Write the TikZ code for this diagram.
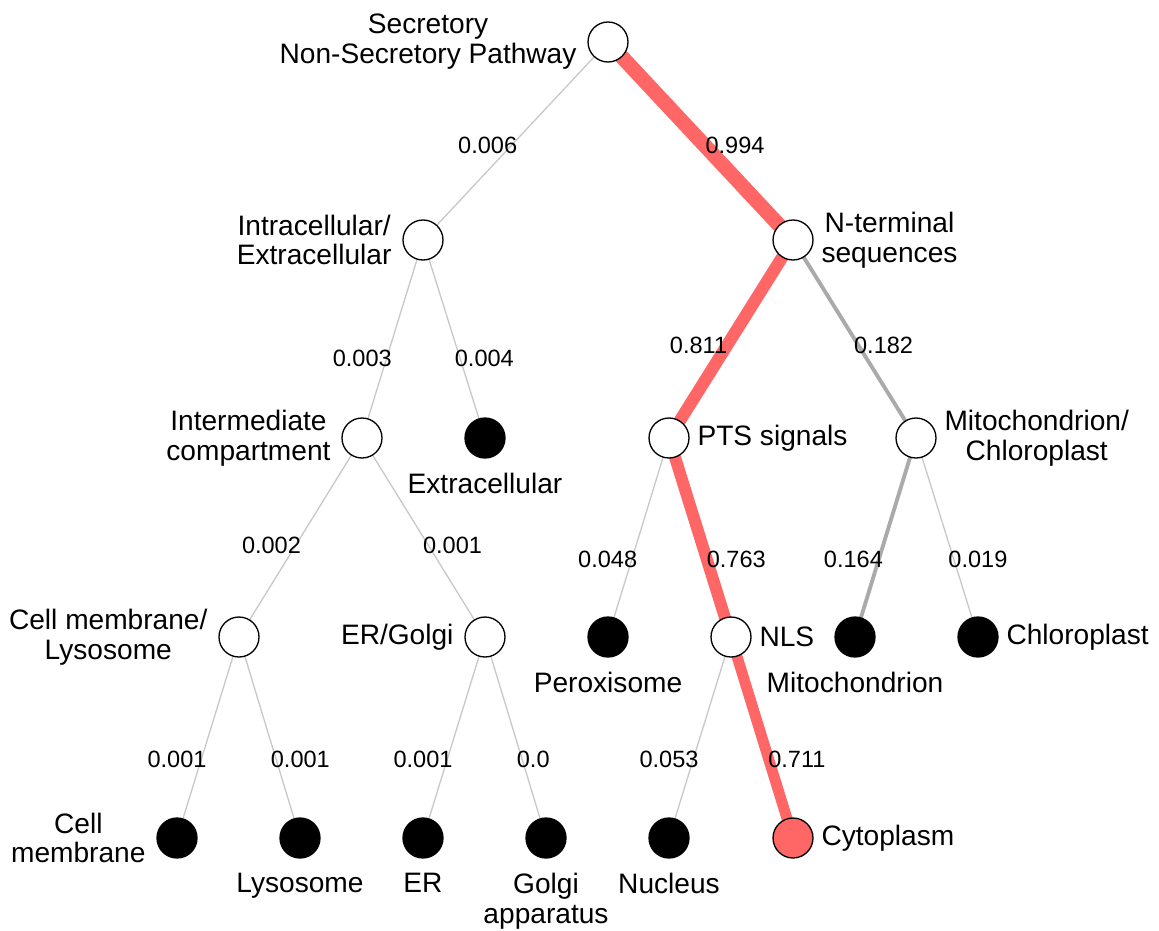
\documentclass[tikz,border=0pt]{standalone}
\usepackage{fontspec}
\setmainfont{Liberation Sans}
\usepackage{xcolor}
\usetikzlibrary{backgrounds}

\definecolor{hotred}{HTML}{FF6666}
\definecolor{coldgray}{HTML}{C8C8C8}

\begin{document}
\begin{tikzpicture}[
  x=0.02cm, y=-0.02cm,
  split/.style={circle, draw, line width=0.75pt, fill=white, minimum size=0.8cm, inner sep=0pt},
  leaf/.style={split, fill=black},
  hit/.style={split, fill=hotred},
  every label/.style={font=\fontsize{16}{17}\selectfont, align=center, inner sep=2pt, text=black},
  txtl/.style={label={[xshift=-0.14cm]left:#1}},
  txtr/.style={label={[xshift=0.08cm]right:#1}},
  txtb/.style={label={[yshift=-0.22cm]below:#1}},
  cold/.style={coldgray, line width=0.75pt},
  warm/.style={coldgray!85!black, line width=2.2pt},
  hot/.style={hotred, line width=#1},
  prob/.style={font=\fontsize{13.4}{15}\selectfont, inner sep=0pt, text=black},
  lft/.style={prob, anchor=east, xshift=0.12cm},
  rgt/.style={prob, anchor=west, xshift=-0.12cm}
]
  \useasboundingbox (0,0) rectangle (1159,930);

  % inner nodes
  \node[split, txtl={Secretory\\Non-Secretory Pathway}]   (root)  at (608,42)  {};
  \node[split, txtl={Intracellular/\\Extracellular}]      (intra) at (423,240) {};
  \node[split, txtr={N-terminal\\sequences}]              (nterm) at (793,240) {};
  \node[split, txtl={Intermediate\\compartment}]          (inter) at (362,438) {};
  \node[split, txtr={PTS signals}]                        (pts)   at (669,438) {};
  \node[split, txtr={Mitochondrion/\\Chloroplast}]        (mitch) at (916,438) {};
  \node[split, txtl={Cell membrane/\\Lysosome}]           (cmly)  at (239,637) {};
  \node[split, txtl={ER/Golgi}]                           (ergo)  at (485,637) {};
  \node[split, txtr={NLS}]                                (nls)   at (731,637) {};

  % leaves
  \node[leaf, txtb={Extracellular}]                       (extra) at (485,438) {};
  \node[leaf, txtb={Peroxisome}]                          (perox) at (608,637) {};
  \node[leaf, txtb={Mitochondrion}]                       (mito)  at (855,637) {};
  \node[leaf, txtr={Chloroplast}]                         (chlo)  at (978,637) {};
  \node[leaf, txtl={Cell\\membrane}]                      (cmem)  at (177,838) {};
  \node[leaf, txtb={Lysosome}]                            (lyso)  at (300,838) {};
  \node[leaf, txtb={ER}]                                  (er)    at (423,838) {};
  \node[leaf, txtb={Golgi\\apparatus}]                    (golgi) at (546,838) {};
  \node[leaf, txtb={Nucleus}]                             (nucl)  at (669,838) {};
  \node[hit,  txtr={Cytoplasm}]                           (cyto)  at (793,838) {};

  \begin{scope}[on background layer]
    \draw[cold]      (root.center)  -- node[lft, pos=.52] {0.006} (intra.center);
    \draw[hot=8.4pt] (root.center)  -- node[rgt, pos=.52] {0.994} (nterm.center);
    \draw[cold]      (intra.center) -- node[lft, pos=.6]  {0.003} (inter.center);
    \draw[cold]      (intra.center) -- node[rgt, pos=.6]  {0.004} (extra.center);
    \draw[hot=7pt]   (nterm.center) -- node[lft, pos=.53] {0.811} (pts.center);
    \draw[warm]      (nterm.center) -- node[rgt, pos=.53] {0.182} (mitch.center);
    \draw[cold]      (inter.center) -- node[lft, pos=.54] {0.002} (cmly.center);
    \draw[cold]      (inter.center) -- node[rgt, pos=.54] {0.001} (ergo.center);
    \draw[cold]      (pts.center)   -- node[lft, pos=.61] {0.048} (perox.center);
    \draw[hot=6.8pt] (pts.center)   -- node[rgt, pos=.61] {0.763} (nls.center);
    \draw[warm]      (mitch.center) -- node[lft, pos=.61] {0.164} (mito.center);
    \draw[cold]      (mitch.center) -- node[rgt, pos=.61] {0.019} (chlo.center);
    \draw[cold]      (cmly.center)  -- node[lft, pos=.61] {0.001} (cmem.center);
    \draw[cold]      (cmly.center)  -- node[rgt, pos=.61] {0.001} (lyso.center);
    \draw[cold]      (ergo.center)  -- node[lft, pos=.61] {0.001} (er.center);
    \draw[cold]      (ergo.center)  -- node[rgt, pos=.61] {0.0}   (golgi.center);
    \draw[cold]      (nls.center)   -- node[lft, pos=.61] {0.053} (nucl.center);
    \draw[hot=6.2pt] (nls.center)   -- node[rgt, pos=.61] {0.711} (cyto.center);
  \end{scope}
\end{tikzpicture}
\end{document}
